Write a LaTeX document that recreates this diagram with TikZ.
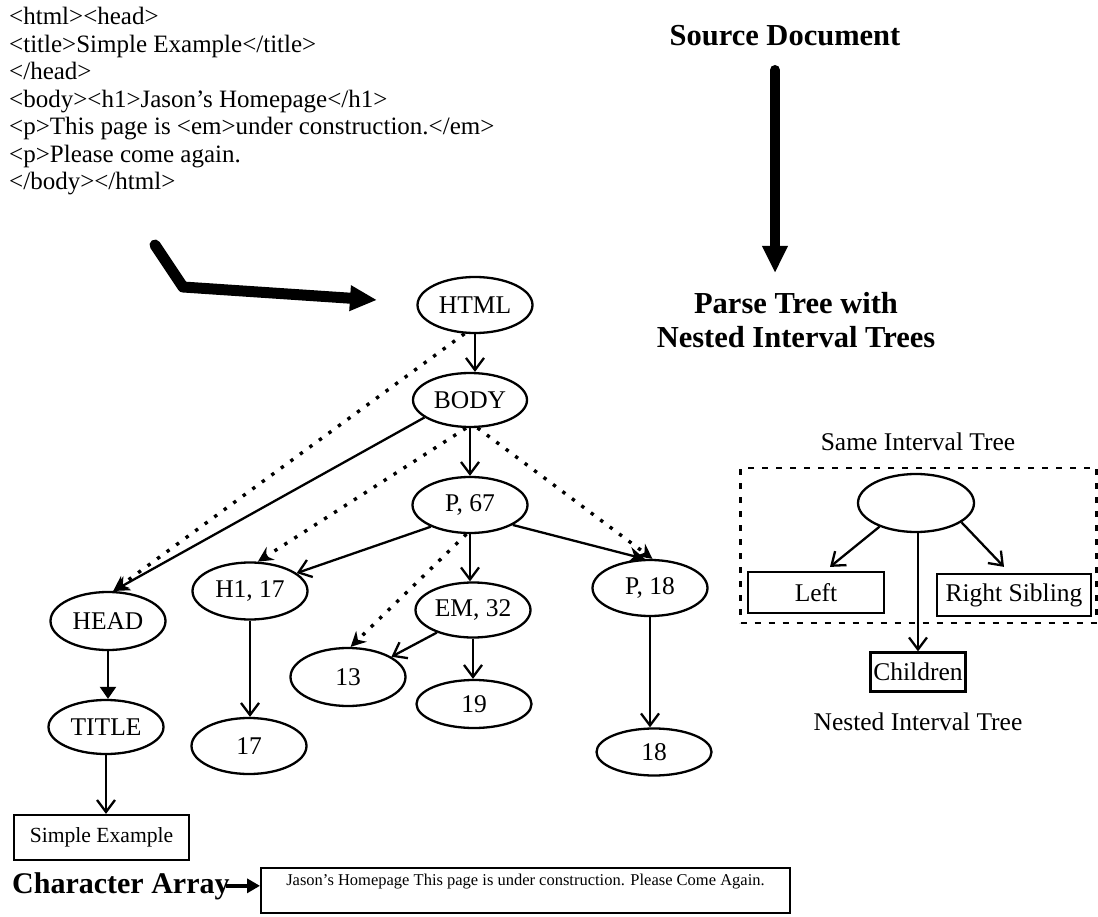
\documentclass[tikz,border=0pt]{standalone}
\usepackage{fontspec}
\setmainfont{Liberation Serif}
\usetikzlibrary{shapes.geometric,arrows.meta}
\begin{document}
\begin{tikzpicture}[x=1pt,y=-1pt,
  code/.style={font=\fontsize{25}{27.5}\selectfont, anchor=base west, inner sep=0pt},
  label/.style={font=\fontsize{25.5}{27.5}\selectfont, inner sep=0pt},
  heading/.style={font=\bfseries\fontsize{30.5}{34}\selectfont, inner sep=0pt, align=center},
  tnode/.style={ellipse, draw, line width=2.3pt, minimum width=115pt, minimum height=56pt,
                inner sep=0pt, font=\fontsize{25.5}{27.5}\selectfont},
  box/.style={rectangle, draw, line width=2.2pt, inner sep=0pt, font=\fontsize{25.5}{27.5}\selectfont},
  link/.style={line width=2.3pt, -{Straight Barb[length=12pt,width=18pt,line width=2.3pt]}},
  solidtip/.style={line width=2.3pt, -{Stealth[length=16pt,width=16pt]}},
  dotlink/.style={line width=3.4pt, dash pattern=on 3.4pt off 8.4pt,
                  -{Stealth[length=15pt,width=15pt]}},
  bigarrow/.style={line width=10pt, line cap=round, line join=round,
                   -{Triangle[length=27pt,width=24pt]}}]
\useasboundingbox (0,0) rectangle (1098,917);

% HTML source listing
\node[code] (src1) at (9,25)    {<html><head>};
\node[code] (src2) at (9,52.5)  {<title>Simple Example</title>};
\node[code] (src3) at (9,80)    {</head>};
\node[code] (src4) at (9,107.5) {<body><h1>Jason’s Homepage</h1>};
\node[code] (src5) at (9,135)   {<p>This page is <em>under construction.</em>};
\node[code] (src6) at (9,162.5) {<p>Please come again.};
\node[code] (src7) at (9,190)   {</body></html>};

% headings and the big conversion arrows
\node[heading, anchor=base] (srcdoc) at (785,46) {Source Document};
\node[heading, anchor=north] (parse) at (796,292) {Parse Tree with\\Nested Interval Trees};
\coordinate (downA) at (775,70);
\coordinate (downB) at (775,273);
\draw[bigarrow] (downA) -- (downB);

\coordinate (bendA) at (155,245);
\coordinate (bendB) at (183,287);
\coordinate (bendC) at (377,300);
\draw[bigarrow, line width=11pt] (bendA) -- (bendB) -- (bendC);

% parse tree
\node[tnode] (html) at (475,305) {HTML};
\node[tnode, minimum width=114pt, minimum height=54pt] (body) at (470,400) {BODY};
\node[tnode] (p67) at (470,505) {P, 67};
\node[tnode, minimum height=57pt] (h1) at (250,591) {H1, 17};
\node[tnode, minimum height=55pt] (em) at (473,610) {EM, 32};
\node[tnode] (p18) at (650,588) {P, 18};
\node[tnode, minimum height=58pt] (head) at (108,621) {HEAD};
\node[tnode, minimum height=58pt] (n13) at (348,677) {13};
\node[tnode, minimum height=48pt] (n19) at (474,704) {19};
\node[tnode, minimum height=54pt] (title) at (106,727) {TITLE};
\node[tnode] (n17) at (249,746) {17};
\node[tnode, minimum height=47pt] (n18) at (654,752) {18};
\node[box, minimum width=175pt, minimum height=45pt, font=\fontsize{21.6}{24}\selectfont]
  (simple) at (101.5,837.5) {Simple Example};

\draw[link] (html.south) -- (html.south |- body.north);
\draw[dotlink] (html.250) -- (head.80);
\draw[solidtip] (body.201) -- (head.80);
\draw[dotlink] (body.262) -- (h1.75);
\draw[link] (body.south) -- (p67.north);
\draw[dotlink] (body.285) -- (p18.85);
\draw[link] (p67.209) -- (h1.21);
\draw[link] (p67.south) -- (p67.south |- em.north);
\draw[dotlink] (p67.263) -- (n13.85);
\draw[solidtip] (p67.335) -- (p18.100);
\draw[link] (em.212) -- (n13.25);
\draw[link] (em.south) -- (em.south |- n19.north);
\draw[link] (h1.south) -- (h1.south |- n17.north);
\draw[link] (p18.south) -- (p18.south |- n18.north);
\draw[line width=2.3pt, -{Triangle[length=12pt,width=16pt]}] (head.south) -- (head.south |- title.north);
\draw[link] (title.south) -- (title.south |- simple.north);

% character array
\node[font=\bfseries\fontsize{30}{32}\selectfont, anchor=base west, inner sep=0pt]
  (chr) at (12,893) {Character Array};
\node[draw, line width=2pt, anchor=north, minimum width=529pt, inner xsep=0pt, inner ysep=5pt,
      text height=12pt, text depth=23pt, font=\fontsize{16.5}{18}\selectfont]
  (cbox) at (525.5,867) {Jason’s Homepage This page is under construction. Please Come Again.};
\draw[line width=3.5pt, -{Triangle[length=13pt,width=14pt]}] ([xshift=-4pt]chr.east) -- (chr.east -| cbox.west);

% interval tree legend
\node[label] (same) at (918,442) {Same Interval Tree};
\node[draw, line width=2.6pt, dash pattern=on 6pt off 8pt, minimum width=356pt, minimum height=155pt,
      inner sep=0pt] (grp) at (918.5,545.5) {};
\node[tnode, minimum width=116pt, minimum height=58pt] (sit) at (916,503) {};
\node[box, minimum width=136pt, minimum height=41pt] (lft) at (816,592.5) {Left};
\node[box, minimum width=154pt, minimum height=42pt] (rsib) at (1014,595) {Right Sibling};
\node[box, minimum width=95pt, minimum height=39pt] (chld) at (918,672) {Children};
\node[label] (nested) at (918,722) {Nested Interval Tree};
\draw[link] (sit.213) -- ([xshift=14pt,yshift=4pt]lft.north);
\draw[link] (sit.337) -- ([xshift=-10pt,yshift=6pt]rsib.north);
\draw[link] (sit.south -| chld.north) -- (chld.north);
\end{tikzpicture}
\end{document}
